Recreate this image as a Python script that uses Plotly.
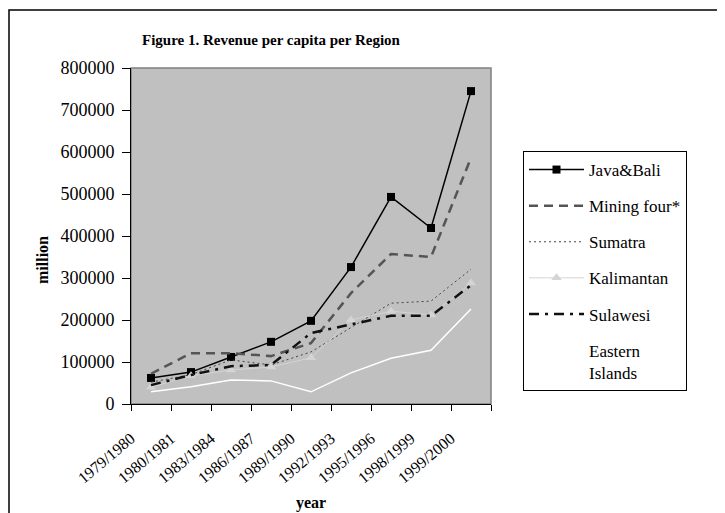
import plotly.graph_objects as go

years = ["1979/1980", "1980/1981", "1983/1984", "1986/1987", "1989/1990",
         "1992/1993", "1995/1996", "1998/1999", "1999/2000"]

java_bali = [62000, 76000, 112000, 148000, 198000, 326000, 493000, 419000, 745000]
mining_four = [72000, 121000, 121000, 114000, 145000, 264000, 357000, 350000, 586000]
sumatra = [52000, 70000, 105000, 93000, 124000, 183000, 240000, 245000, 321000]
kalimantan = [40000, 67000, 81000, 88000, 110000, 200000, 221000, 212000, 288000]
sulawesi = [45000, 69000, 90000, 93000, 169000, 190000, 210000, 210000, 283000]
eastern = [29000, 41000, 57000, 55000, 29000, 74000, 109000, 128000, 226000]

FONT = "Liberation Serif, Times New Roman, serif"

fig = go.Figure()

def add(name, y, color, width, dash, marker=None):
    kw = dict(x=years, y=y, name=name, mode="lines",
              line=dict(color=color, width=width, dash=dash),
              legendgroup=name)
    if marker:
        kw["mode"] = "lines+markers"
        kw["marker"] = marker
    fig.add_trace(go.Scatter(**kw))

add("Java&Bali", java_bali, "#000000", 1.5, "solid",
    marker=dict(symbol="square", size=8, color="#000000"))
add("Mining four*", mining_four, "#555555", 2.5, "9px,6px")
add("Sumatra", sumatra, "#444444", 1, "2px,3px")
add("Kalimantan", kalimantan, "#d4d4d4", 1, "solid",
    marker=dict(symbol="triangle-up", size=9, color="#d4d4d4"))
add("Sulawesi", sulawesi, "#111111", 2.5, "10px,6px,3px,6px")
add("Eastern<br>Islands", eastern, "#ffffff", 1.5, "solid")

# page offset of the figure (browser body margin)
OFF = 8
PL, PR, PT, PB = 131, 491, 68, 404   # plot area in page pixels
W, H = 725 - OFF, 513 - OFF

def px(x):
    return (x - PL) / (PR - PL)

def py(y):
    return (PB - y) / (PB - PT)

fig.update_layout(
    width=W, height=H,
    margin=dict(l=PL - OFF, r=W - (PR - OFF), t=PT - OFF, b=H - (PB - OFF), pad=0),
    paper_bgcolor="white",
    plot_bgcolor="#c0c0c0",
    font=dict(family=FONT, size=17, color="black"),
    showlegend=True,
    legend=dict(
        x=px(523), y=py(151), xanchor="left", yanchor="top",
        bordercolor="black", borderwidth=1, bgcolor="white",
        traceorder="grouped", tracegroupgap=11, itemwidth=55,
        font=dict(family=FONT, size=17, color="black"),
    ),
    xaxis=dict(
        type="category", tickson="boundaries", ticks="outside", ticklen=6,
        tickcolor="black", showline=True, linecolor="black", linewidth=1,
        showgrid=False, tickangle=-40, range=[-0.5, 8.5], automargin=False,
        tickfont=dict(family=FONT, size=16),
        ticklabelstandoff=18, ticklabelshift=-20,
    ),
    yaxis=dict(
        range=[0, 800000], dtick=100000, tickformat="d", ticks="outside",
        ticklen=8, tickcolor="black", showline=True, linecolor="black",
        linewidth=1, showgrid=False, zeroline=False, automargin=False,
        tickfont=dict(family=FONT, size=18), ticklabelstandoff=4,
    ),
    shapes=[
        dict(type="rect", xref="paper", yref="paper", x0=0, x1=1, y0=0, y1=1,
             line=dict(color="#808080", width=1.5), layer="below"),
        dict(type="rect", xref="paper", yref="paper",
             x0=px(9), x1=px(730), y0=py(10), y1=py(530),
             line=dict(color="black", width=1.5)),
    ],
    annotations=[
        dict(text="<b>Figure 1. Revenue per capita per Region</b>", xref="paper",
             yref="paper", x=px(271), y=py(40), showarrow=False,
             font=dict(family=FONT, size=15), xanchor="center", yanchor="middle"),
        dict(text="<b>million</b>", xref="paper", yref="paper", x=px(42), y=py(260),
             showarrow=False, textangle=-90, font=dict(family=FONT, size=16),
             xanchor="center", yanchor="middle"),
        dict(text="<b>year</b>", xref="paper", yref="paper", x=px(311), y=py(503),
             showarrow=False, font=dict(family=FONT, size=16),
             xanchor="center", yanchor="middle"),
    ],
)

fig.write_html("out.html")
